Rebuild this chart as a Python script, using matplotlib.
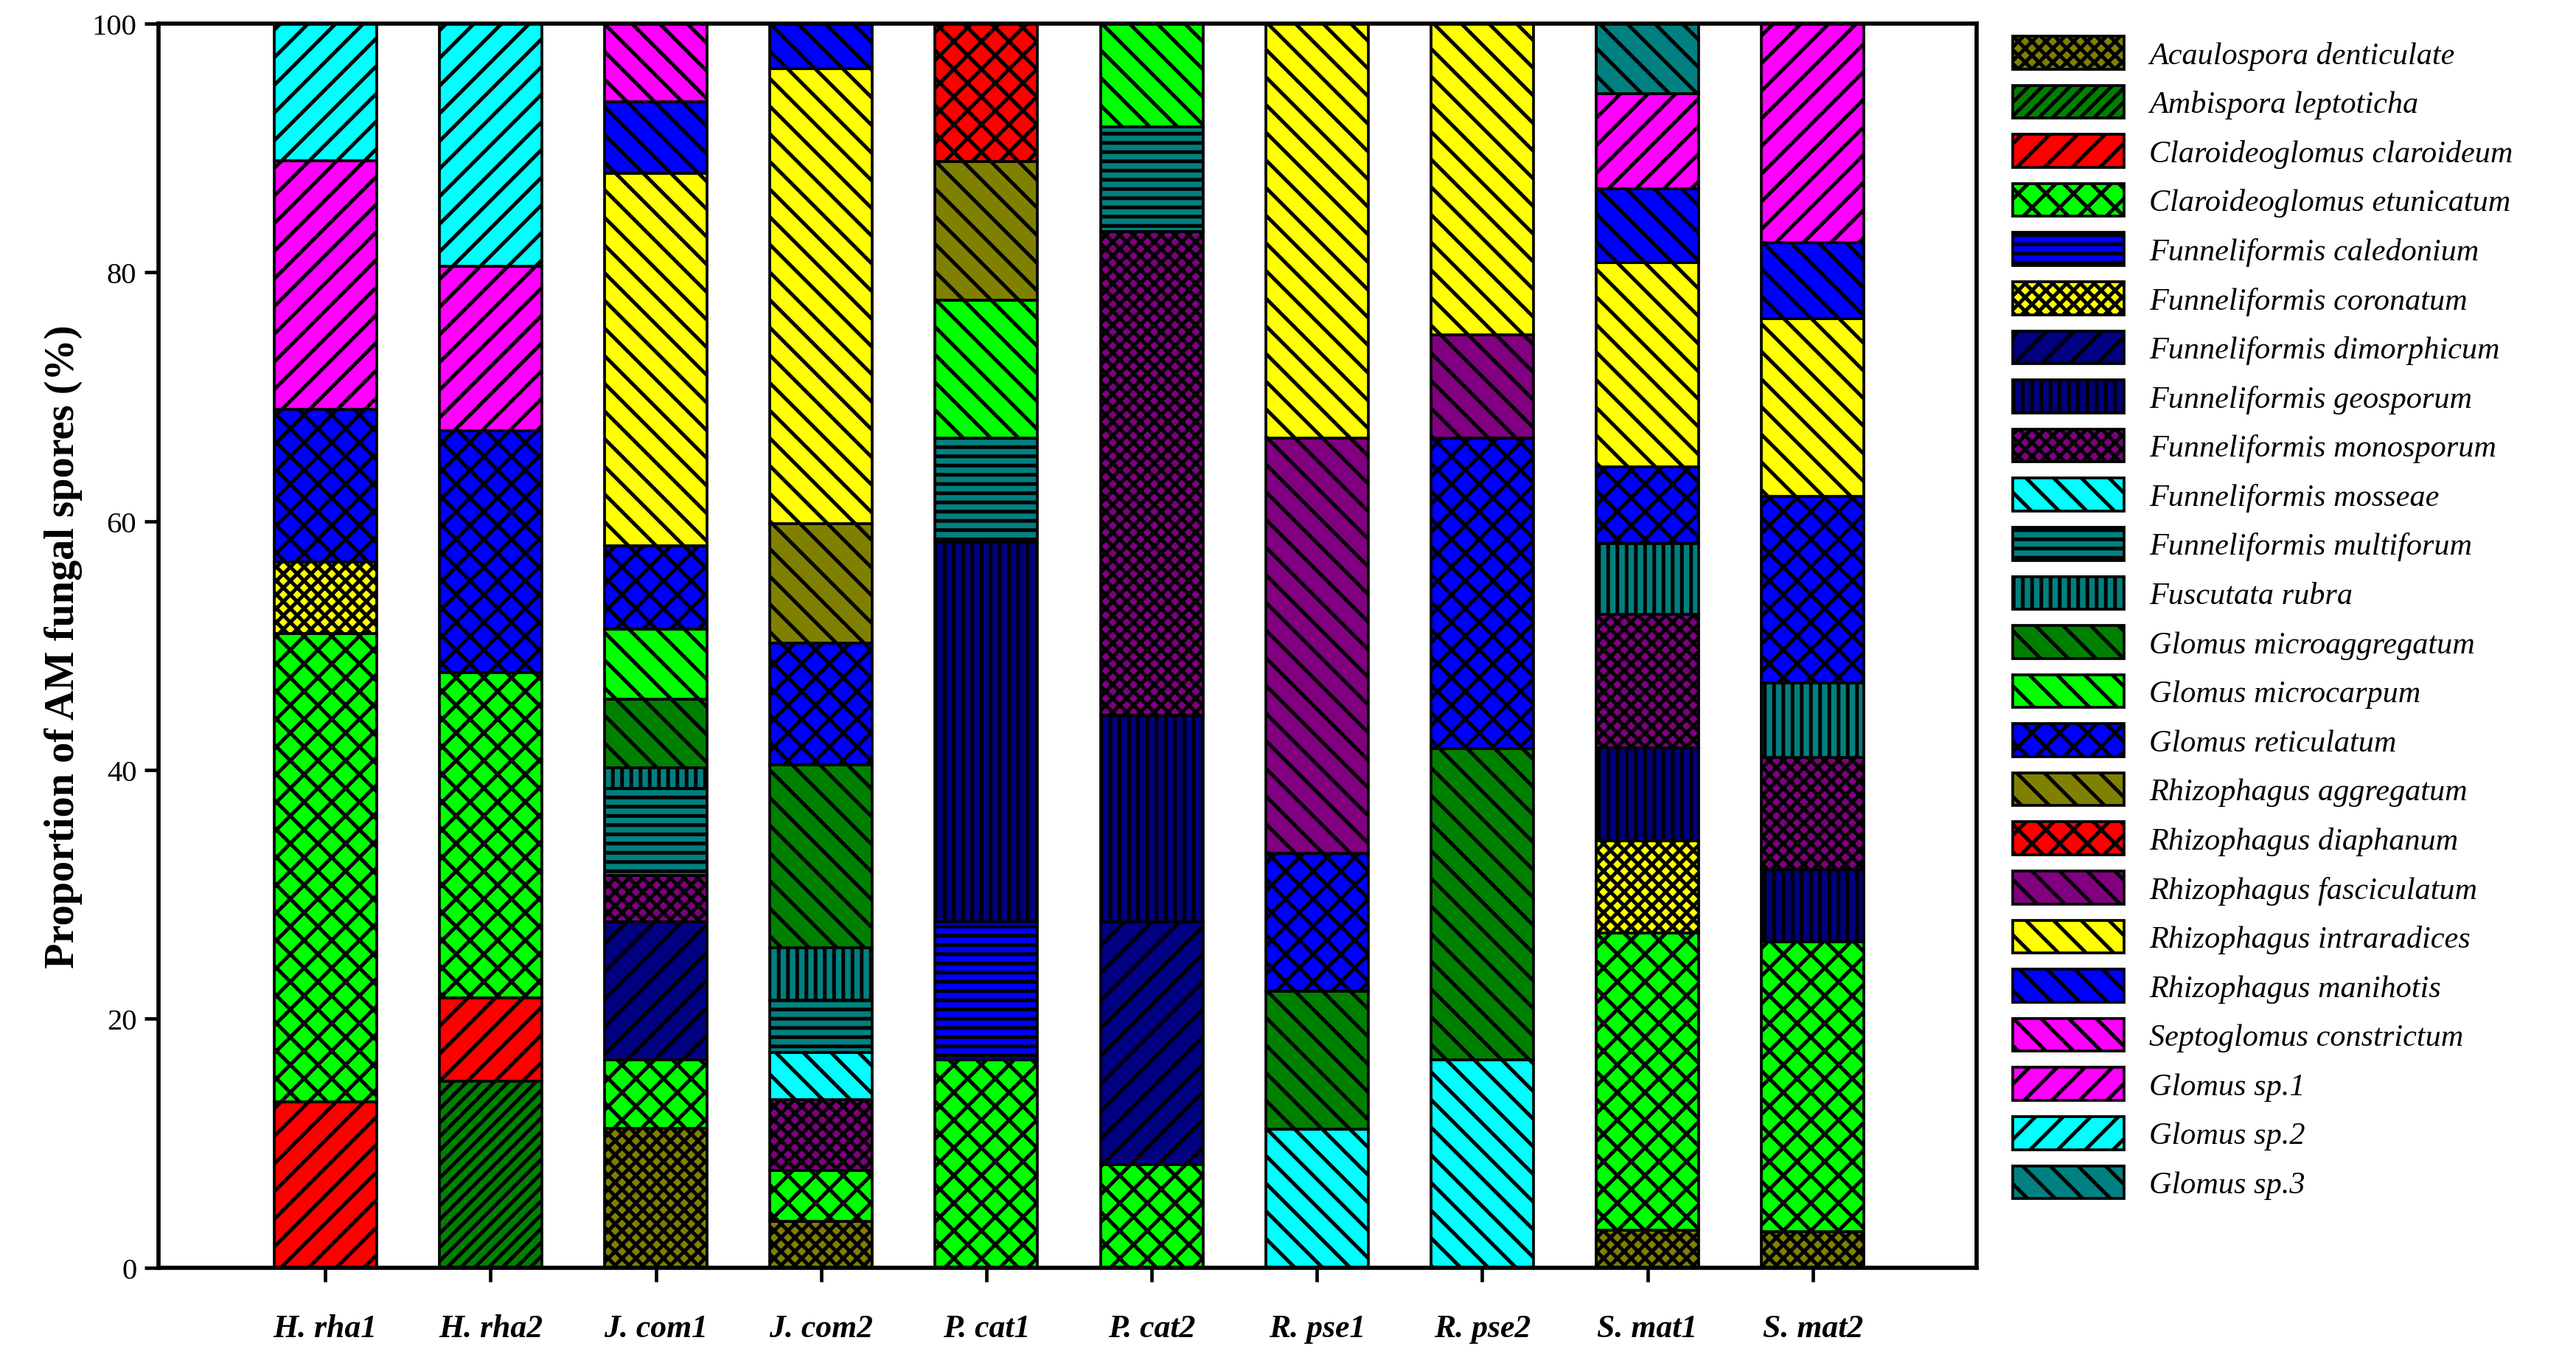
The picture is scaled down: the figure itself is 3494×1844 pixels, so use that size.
import numpy as np
import matplotlib.pyplot as plt

plt.rcParams['font.family'] = ['Liberation Serif', 'DejaVu Serif']
plt.rcParams['hatch.linewidth'] = 1.6

samples = ['H. rha1', 'H. rha2', 'J. com1', 'J. com2', 'P. cat1',
           'P. cat2', 'R. pse1', 'R. pse2', 'S. mat1', 'S. mat2']

species = ['Acaulospora denticulate', 'Ambispora leptoticha', 'Claroideoglomus claroideum',
           'Claroideoglomus etunicatum', 'Funneliformis caledonium', 'Funneliformis coronatum',
           'Funneliformis dimorphicum', 'Funneliformis geosporum', 'Funneliformis monosporum',
           'Funneliformis mosseae', 'Funneliformis multiforum', 'Fuscutata rubra',
           'Glomus microaggregatum', 'Glomus microcarpum', 'Glomus reticulatum',
           'Rhizophagus aggregatum', 'Rhizophagus diaphanum', 'Rhizophagus fasciculatum',
           'Rhizophagus intraradices', 'Rhizophagus manihotis', 'Septoglomus constrictum',
           'Glomus sp.1', 'Glomus sp.2', 'Glomus sp.3']

colors = ['#808000', '#008000', '#FF0000', '#00FF00', '#0000FF', '#FFFF00',
          '#000080', '#000080', '#800080', '#00FFFF', '#008080', '#008080',
          '#008000', '#00FF00', '#0000FF', '#808000', '#FF0000', '#800080',
          '#FFFF00', '#0000FF', '#FF00FF', '#FF00FF', '#00FFFF', '#008080']

hatches = ['xxxx', '////', '//', 'xx', '---', 'xxxx',
           '//', '|||', 'xxxx', '\\\\', '---', '|||',
           '\\\\', '\\\\', 'xx', '\\\\', 'xx', '\\\\',
           '\\\\', '\\\\', '\\\\', '//', '//', '\\\\']

# proportions (%) per species, one value per sample
AD   = [0, 0, 11.2, 3.7, 0, 0, 0, 0, 3.0, 2.9]
AL   = [0, 15.0, 0, 0, 0, 0, 0, 0, 0, 0]
CC   = [13.3, 6.7, 0, 0, 0, 0, 0, 0, 0, 0]
CE   = [37.7, 26.1, 5.5, 4.1, 16.7, 8.3, 0, 0, 23.9, 23.3]
FC   = [0, 0, 0, 0, 11.1, 0, 0, 0, 0, 0]
FCo  = [5.7, 0, 0, 0, 0, 0, 0, 0, 7.4, 0]
FD   = [0, 0, 11.1, 0, 0, 19.5, 0, 0, 0, 0]
FG   = [0, 0, 0, 0, 30.5, 16.6, 0, 0, 7.5, 5.8]
FMo  = [0, 0, 3.7, 5.7, 0, 38.9, 0, 0, 10.7, 9.0]
FMos = [0, 0, 0, 3.8, 0, 0, 11.1, 16.7, 0, 0]
FMu  = [0, 0, 7.0, 4.2, 8.4, 8.4, 0, 0, 0, 0]
FR   = [0, 0, 1.7, 4.2, 0, 0, 0, 0, 5.7, 6.0]
GMa  = [0, 0, 5.5, 14.7, 0, 0, 11.1, 25.0, 0, 0]
GMc  = [0, 0, 5.6, 0, 11.1, 8.3, 0, 0, 0, 0]
GR   = [12.3, 19.5, 6.7, 9.8, 0, 0, 11.1, 25.0, 6.2, 15.0]
RA   = [0, 0, 0, 9.6, 11.1, 0, 0, 0, 0, 0]
RD   = [0, 0, 0, 0, 11.1, 0, 0, 0, 0, 0]
RF   = [0, 0, 0, 0, 0, 0, 33.4, 8.3, 0, 0]
RI   = [0, 0, 30.0, 36.6, 0, 0, 33.3, 25.0, 16.4, 14.3]
RM   = [0, 0, 5.7, 3.6, 0, 0, 0, 0, 5.9, 6.1]
SC   = [0, 0, 6.3, 0, 0, 0, 0, 0, 0, 0]
G1   = [20.0, 13.2, 0, 0, 0, 0, 0, 0, 7.7, 17.6]
G2   = [11.0, 19.5, 0, 0, 0, 0, 0, 0, 0, 0]
G3   = [0, 0, 0, 0, 0, 0, 0, 0, 5.6, 0]

series = [AD, AL, CC, CE, FC, FCo, FD, FG, FMo, FMos, FMu, FR,
          GMa, GMc, GR, RA, RD, RF, RI, RM, SC, G1, G2, G3]

fig = plt.figure(figsize=(15.533, 8.2), dpi=225)
ax = fig.add_axes([0.0615, 0.068, 0.7055, 0.914])

x = np.arange(len(samples))
bottom = np.zeros(len(samples))
for name, vals, c, h in zip(species, series, colors, hatches):
    vals = np.array(vals, dtype=float)
    ax.bar(x, vals, 0.62, bottom=bottom, color=c, hatch=h,
           edgecolor='black', linewidth=1.2, label=name)
    bottom += vals

ax.set_xlim(-1.01, 9.99)
ax.set_ylim(0, 100)
ax.set_yticks(np.arange(0, 101, 20))
ax.set_xticks(x)
ax.set_xticklabels(samples, fontsize=14, fontweight='bold', style='italic')
ax.tick_params(axis='y', labelsize=13, width=1.5, length=6, direction='out')
ax.tick_params(axis='x', width=1.5, length=6, direction='out', pad=14)
ax.set_ylabel('Proportion of AM fungal spores (%)', fontsize=18, fontweight='bold')
for s in ax.spines.values():
    s.set_linewidth(1.8)

ax.legend(loc='upper left', bbox_to_anchor=(1.013, 1.0), frameon=False,
          prop={'style': 'italic', 'size': 13.5}, handlelength=3.6,
          handleheight=1.25, labelspacing=0.5, borderaxespad=0, handletextpad=0.8)

fig.savefig('out.png', dpi=225)
